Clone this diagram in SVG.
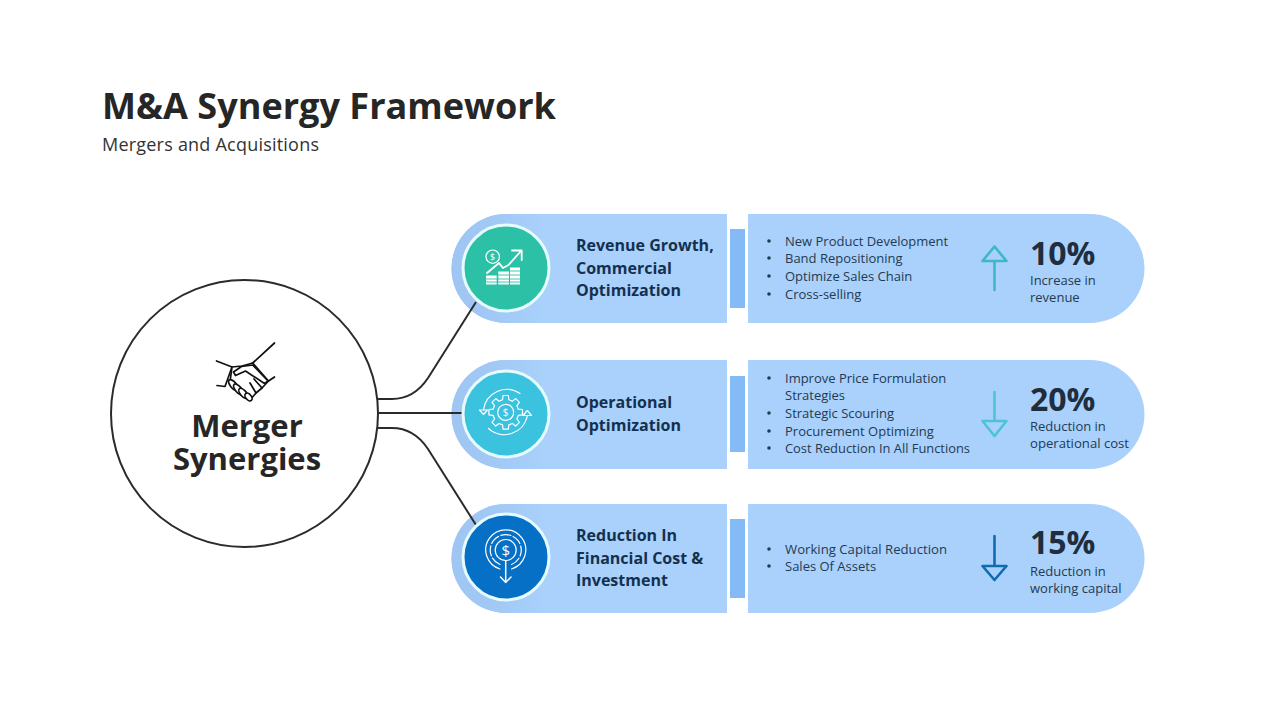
<svg xmlns="http://www.w3.org/2000/svg" width="1280" height="720" viewBox="0 0 1280 720">
<defs>
<linearGradient id="haloFade" gradientUnits="userSpaceOnUse" x1="452" y1="0" x2="545" y2="0">
<stop offset="0" stop-color="#9fc5f3"/><stop offset="0.45" stop-color="#a2c8f5"/><stop offset="1" stop-color="#a9d1fb"/>
</linearGradient>
</defs>
<style>
text{font-family:"Open Sans","Noto Sans","Liberation Sans",sans-serif}
.title{font-size:36px;font-weight:700;fill:#262626}
.sub{font-size:18px;fill:#333}
.hub{font-size:31px;font-weight:700;fill:#262626;text-anchor:middle}
.head{font-size:16px;font-weight:700;fill:#14304f}
.li{font-size:13px;fill:#243a52}
.pct{font-size:32px;font-weight:700;fill:#1f2d3d}
.cap{font-size:13px;fill:#243a52}
.band{fill:#a9d1fb}
.bar{fill:#84bbf6}
.halo{fill:url(#haloFade)}
.disc{stroke:#e6fbfb;stroke-width:3}
.dot{fill:#243a52}
.ico{fill:none;stroke:#fff;stroke-width:1.2;stroke-linecap:round;stroke-linejoin:round}
.hand{fill:#fff;stroke:#111;stroke-width:1.7;stroke-linecap:round;stroke-linejoin:round}
.conn{fill:none;stroke:#2b2b2b;stroke-width:2}
.arr{fill:none;stroke-width:2.6;stroke-linejoin:round;stroke-linecap:round}
</style>
<rect width="1280" height="720" fill="#fff"/>
<text class="title" x="102" y="119" textLength="454" lengthAdjust="spacingAndGlyphs">M&amp;A Synergy Framework</text>
<text class="sub" x="102" y="151" textLength="217" lengthAdjust="spacing">Mergers and Acquisitions</text>

<g id="hub">
<circle cx="244.500" cy="413.500" r="133.500" fill="#fff" stroke="#2b2b2b" stroke-width="2"/>
<g class="hand">
<path fill="none" d="M274.500 343L252.700 363"/>
<path fill="none" d="M216.500 361L232 367"/>
<path fill="none" d="M232 367L225 386.500L217 385.500"/>
<path d="M252.700 363L268.500 381L262 388L256 393L250 400L243 396L230 382L232 367L242 366Z"/>
<path fill="none" d="M274.500 377L268.500 381"/>
<path d="M233.500 372L241.500 366.500L252.700 365L268 381L264.500 383.500L245.500 371L235.500 375.500Z"/>
<ellipse cx="233.300" cy="385" rx="6.500" ry="3" transform="rotate(50 233.300 385)"/>
<ellipse cx="238.300" cy="389.300" rx="6.500" ry="3" transform="rotate(50 238.300 389.300)"/>
<ellipse cx="243.300" cy="393.300" rx="6" ry="3" transform="rotate(50 243.300 393.300)"/>
<ellipse cx="248.500" cy="397" rx="4.500" ry="2.800" transform="rotate(50 248.500 397)"/>
<path fill="none" d="M254 379L262 388M250 383L256 393"/>
</g>
<text class="hub" x="247" y="437">Merger</text>
<text class="hub" x="247" y="470">Synergies</text>
</g>

<g id="row1">
<path class="band" d="M506 214H727V323H506A54.500 54.500 0 0 1 506 214Z"/>
<rect class="bar" x="730" y="229" width="15" height="79"/>
<path class="band" d="M748 214H1090A54.500 54.500 0 0 1 1090 323H748Z"/>
<path class="halo" d="M506 214A54.500 54.500 0 0 0 506 323H545V214Z"/>
</g>
<g id="row2">
<path class="band" d="M506 360H727V469H506A54.500 54.500 0 0 1 506 360Z"/>
<rect class="bar" x="730" y="376" width="15" height="76"/>
<path class="band" d="M748 360H1090A54.500 54.500 0 0 1 1090 469H748Z"/>
<path class="halo" d="M506 360A54.500 54.500 0 0 0 506 469H545V360Z"/>
</g>
<g id="row3">
<path class="band" d="M506 504H727V613H506A54.500 54.500 0 0 1 506 504Z"/>
<rect class="bar" x="730" y="519" width="15" height="79"/>
<path class="band" d="M748 504H1090A54.500 54.500 0 0 1 1090 613H748Z"/>
<path class="halo" d="M506 504A54.500 54.500 0 0 0 506 613H545V504Z"/>
</g>

<g id="connectors">
<path class="conn" d="M378 399H392C408 399 420 390 428 378L476 302"/>
<path class="conn" d="M378 413H463"/>
<path class="conn" d="M378 428H392C408 428 420 437 428 449L476 525"/>
</g>

<g id="node1">
<circle class="disc" cx="506" cy="268" r="43" fill="#2cc1a7"/>
<g class="ico">
<circle cx="492.700" cy="256.700" r="6.700"/>
<path stroke-width="1.800" d="M487 273L499 263L503 268L508.500 265L521 251M512 250.500H521.700V260"/>
<g fill="#fff" stroke="none">
<rect x="486" y="275.500" width="10.700" height="9"/>
<rect x="498.300" y="271.500" width="10.700" height="13"/>
<rect x="510" y="267.500" width="10" height="17"/>
</g>
<path stroke="#2cc1a7" stroke-width="0.900" d="M486 279H496.700M486 282H496.700M498.300 275H509M498.300 279H509M498.300 282H509M510 271H520M510 275H520M510 279H520M510 282H520"/>
</g>
<text x="492.700" y="260" text-anchor="middle" font-size="9" fill="#fff">$</text>
<text class="head" x="576" y="251">Revenue Growth,</text>
<text class="head" x="576" y="274">Commercial</text>
<text class="head" x="576" y="296">Optimization</text>
<circle class="dot" cx="769" cy="241" r="1.800"/><text class="li" x="785" y="246">New Product Development</text>
<circle class="dot" cx="769" cy="258" r="1.800"/><text class="li" x="785" y="263">Band Repositioning</text>
<circle class="dot" cx="769" cy="276" r="1.800"/><text class="li" x="785" y="281">Optimize Sales Chain</text>
<circle class="dot" cx="769" cy="294" r="1.800"/><text class="li" x="785" y="299">Cross-selling</text>
<path class="arr" stroke="#3db8c4" d="M994.500 290V261M994.500 246.500L982.500 261H1006.500Z"/>
<text class="pct" x="1030" y="265">10%</text>
<text class="cap" x="1030" y="285">Increase in</text>
<text class="cap" x="1030" y="302">revenue</text>
</g>

<g id="node2">
<circle class="disc" cx="506" cy="414" r="43" fill="#3bc2de"/>
<g class="ico">
<circle cx="505.700" cy="412.300" r="8"/>
<polygon transform="translate(505.700 412.300)" points="12.600,-3.140 16.800,-2.660 16.800,2.660 12.600,3.140 11.140,6.700 13.750,10 10,13.750 6.700,11.140 3.140,12.600 2.660,16.800 -2.660,16.800 -3.140,12.600 -6.700,11.140 -10,13.750 -13.750,10 -11.140,6.700 -12.600,3.140 -16.800,2.660 -16.800,-2.660 -12.600,-3.140 -11.140,-6.700 -13.750,-10 -10,-13.750 -6.700,-11.140 -3.140,-12.600 -2.660,-16.800 2.660,-16.800 3.140,-12.600 6.700,-11.140 10,-13.750 13.750,-10 11.140,-6.700"/>
<path d="M483.500 410A23.500 23.500 0 0 1 520 393.500"/>
<path d="M527.300 416A23.500 23.500 0 0 1 488.500 428.500"/>
<path d="M479.500 410H487.500L483.500 414.500ZM523 415.500H531.500L527.300 410.500Z"/>
</g>
<text x="505.700" y="416" text-anchor="middle" font-size="10" fill="#fff">$</text>
<text class="head" x="576" y="408">Operational</text>
<text class="head" x="576" y="431">Optimization</text>
<circle class="dot" cx="769" cy="378" r="1.800"/><text class="li" x="785" y="383">Improve Price Formulation</text>
<text class="li" x="785" y="400">Strategies</text>
<circle class="dot" cx="769" cy="413" r="1.800"/><text class="li" x="785" y="418">Strategic Scouring</text>
<circle class="dot" cx="769" cy="431" r="1.800"/><text class="li" x="785" y="436">Procurement Optimizing</text>
<circle class="dot" cx="769" cy="448" r="1.800"/><text class="li" x="785" y="453" textLength="185" lengthAdjust="spacingAndGlyphs">Cost Reduction In All Functions</text>
<path class="arr" stroke="#4dc3d9" d="M994.500 392V421M994.500 436L982.500 421H1006.500Z"/>
<text class="pct" x="1030" y="411">20%</text>
<text class="cap" x="1030" y="431">Reduction in</text>
<text class="cap" x="1030" y="448" textLength="99" lengthAdjust="spacingAndGlyphs">operational cost</text>
</g>

<g id="node3">
<circle class="disc" cx="506" cy="557" r="43" fill="#0670c6"/>
<g class="ico">
<circle cx="505.700" cy="550" r="10.500"/>
<path d="M500 569A20 20 0 1 1 511.500 569"/>
<path d="M500 564.500A15.500 15.500 0 1 1 511.500 564.500" stroke-dasharray="10 2.500"/>
<path stroke-width="1.500" d="M505.700 561V582.500M500.500 577L505.700 582.500L511 577"/>
</g>
<text x="505.700" y="555.500" text-anchor="middle" font-size="15" fill="#fff">$</text>
<text class="head" x="576" y="541">Reduction In</text>
<text class="head" x="576" y="564">Financial Cost &amp;</text>
<text class="head" x="576" y="586">Investment</text>
<circle class="dot" cx="769" cy="549" r="1.800"/><text class="li" x="785" y="554" textLength="162" lengthAdjust="spacingAndGlyphs">Working Capital Reduction</text>
<circle class="dot" cx="769" cy="566" r="1.800"/><text class="li" x="785" y="571">Sales Of Assets</text>
<path class="arr" stroke="#0f6cb0" d="M994.500 536V566M994.500 580L982.500 566H1006.500Z"/>
<text class="pct" x="1030" y="554">15%</text>
<text class="cap" x="1030" y="576">Reduction in</text>
<text class="cap" x="1030" y="593">working capital</text>
</g>
</svg>
